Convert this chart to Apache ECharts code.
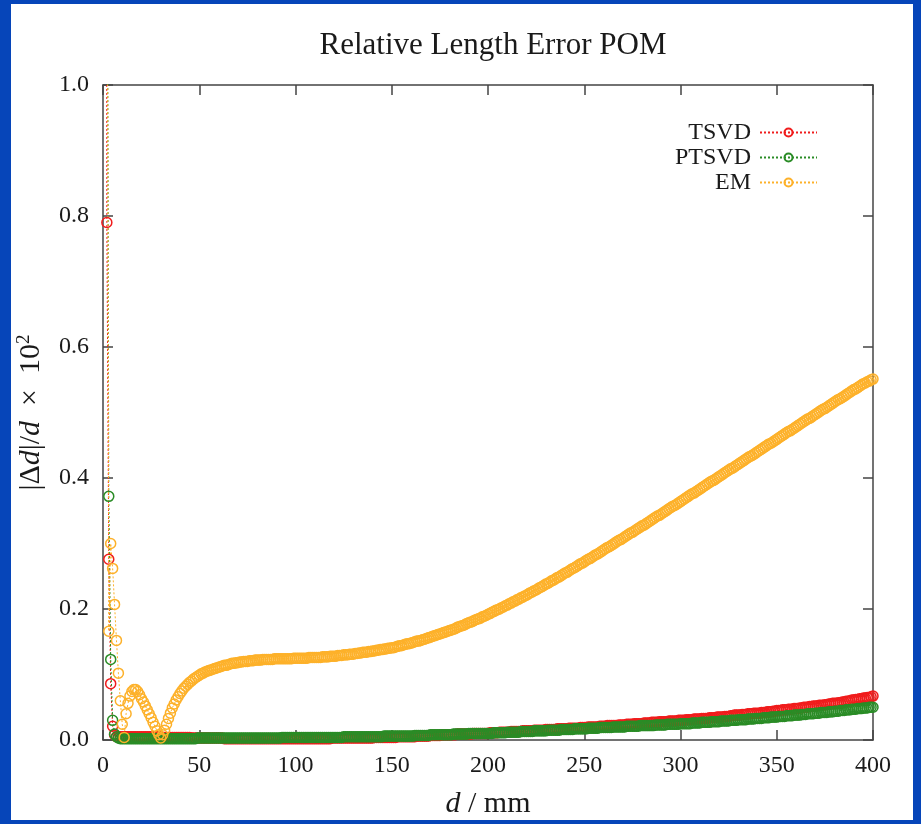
<!DOCTYPE html>
<html>
<head>
<meta charset="utf-8">
<script src="https://cdn.jsdelivr.net/npm/echarts@6/dist/echarts.min.js"></script>
<style>
html,body{margin:0;padding:0;background:#0645b9;}
#chart{width:921px;height:824px;}
</style>
</head>
<body>
<div id="chart"></div>
<script>
// sample positions d (mm)
var dValues = [
  1,2,3,4,5,6,7,8,9,10,11,12,13,14,15,16,17,18,19,20,
  21,22,23,24,25,26,27,28,29,30,31,32,33,34,35,36,37,38,39,40,
  41,42,43,44,45,46,47,48,49,50,51,52,53,54,55,56,57,58,59,60,
  61,62,63,64,65,66,67,68,69,70,71,72,73,74,75,76,77,78,79,80,
  81,82,83,84,85,86,87,88,89,90,91,92,93,94,95,96,97,98,99,100,
  101,102,103,104,105,106,107,108,109,110,111,112,113,114,115,116,117,118,119,120,
  121,122,123,124,125,126,127,128,129,130,131,132,133,134,135,136,137,138,139,140,
  141,142,143,144,145,146,147,148,149,150,151,152,153,154,155,156,157,158,159,160,
  161,162,163,164,165,166,167,168,169,170,171,172,173,174,175,176,177,178,179,180,
  181,182,183,184,185,186,187,188,189,190,191,192,193,194,195,196,197,198,199,200,
  201,202,203,204,205,206,207,208,209,210,211,212,213,214,215,216,217,218,219,220,
  221,222,223,224,225,226,227,228,229,230,231,232,233,234,235,236,237,238,239,240,
  241,242,243,244,245,246,247,248,249,250,251,252,253,254,255,256,257,258,259,260,
  261,262,263,264,265,266,267,268,269,270,271,272,273,274,275,276,277,278,279,280,
  281,282,283,284,285,286,287,288,289,290,291,292,293,294,295,296,297,298,299,300,
  301,302,303,304,305,306,307,308,309,310,311,312,313,314,315,316,317,318,319,320,
  321,322,323,324,325,326,327,328,329,330,331,332,333,334,335,336,337,338,339,340,
  341,342,343,344,345,346,347,348,349,350,351,352,353,354,355,356,357,358,359,360,
  361,362,363,364,365,366,367,368,369,370,371,372,373,374,375,376,377,378,379,380,
  381,382,383,384,385,386,387,388,389,390,391,392,393,394,395,396,397,398,399,400
];

var tsvdValues = [
  5.0,0.79,0.276,0.086,0.021,0.008,0.005,0.005,0.005,0.005,
  .005,.005,.005,.005,.005,.005,.005,.005,.005,.005,
  .005,.005,.005,.005,.005,.005,.005,.005,.005,.005,
  .004,.004,.004,.004,.004,.004,.004,.004,.004,.004,
  .004,.004,.004,.004,.004,.003,.003,.003,.003,.003,
  .003,.003,.003,.003,.003,.003,.003,.003,.003,.003,
  .003,.003,.002,.002,.002,.002,.002,.002,.002,.002,
  .002,.002,.002,.002,.002,.002,.002,.002,.002,.002,
  .002,.002,.002,.002,.002,.002,.002,.002,.002,.002,
  .002,.002,.002,.002,.002,.002,.002,.002,.002,.002,
  .002,.002,.002,.002,.002,.002,.002,.002,.002,.002,
  .002,.002,.002,.002,.002,.002,.002,.002,.003,.003,
  .003,.003,.003,.003,.003,.003,.003,.003,.003,.003,
  .003,.003,.003,.003,.003,.003,.003,.003,.003,.003,
  .004,.004,.004,.004,.004,.004,.004,.004,.004,.004,
  .004,.004,.005,.005,.005,.005,.005,.005,.005,.005,
  .005,.005,.006,.006,.006,.006,.006,.006,.006,.007,
  .007,.007,.007,.007,.007,.008,.008,.008,.008,.008,
  .008,.008,.008,.009,.009,.009,.009,.009,.009,.009,
  .009,.010,.010,.010,.010,.010,.010,.010,.010,.010,
  .011,.011,.011,.011,.011,.012,.012,.012,.012,.012,
  .012,.013,.013,.013,.013,.013,.013,.014,.014,.014,
  .014,.014,.014,.015,.015,.015,.015,.015,.015,.016,
  .016,.016,.016,.016,.016,.017,.017,.017,.017,.017,
  .017,.018,.018,.018,.018,.018,.018,.019,.019,.019,
  .019,.020,.020,.020,.020,.020,.020,.021,.021,.021,
  .021,.022,.022,.022,.022,.022,.022,.023,.023,.023,
  .023,.024,.024,.024,.024,.025,.025,.025,.025,.025,
  .026,.026,.026,.026,.027,.027,.027,.027,.028,.028,
  .028,.028,.028,.029,.029,.029,.029,.029,.030,.030,
  .030,.030,.031,.031,.031,.031,.032,.032,.032,.032,
  .033,.033,.033,.033,.034,.034,.034,.034,.035,.035,
  .035,.035,.036,.036,.036,.037,.037,.038,.038,.038,
  .038,.039,.039,.039,.040,.040,.040,.041,.041,.041,
  .041,.042,.042,.042,.043,.043,.043,.044,.044,.045,
  .045,.045,.046,.046,.046,.047,.047,.047,.048,.048,
  .048,.049,.049,.050,.050,.050,.051,.051,.052,.052,
  .052,.053,.053,.053,.054,.054,.055,.055,.056,.056,
  .056,.057,.057,.058,.058,.059,.059,.060,.061,.061,
  .062,.062,.063,.063,.064,.064,.065,.065,.066,.067
];

var ptsvdValues = [
  4.0,1.6,0.372,0.123,0.030,0.009,0.005,0.003,0.002,0.002,
  .002,.002,.002,.002,.002,.002,.002,.002,.002,.002,
  .002,.002,.002,.002,.002,.002,.002,.002,.002,.002,
  .002,.002,.002,.002,.002,.002,.002,.002,.002,.002,
  .002,.002,.002,.002,.002,.002,.002,.002,.003,.003,
  .003,.003,.003,.003,.003,.003,.003,.003,.003,.003,
  .003,.003,.003,.003,.003,.003,.003,.003,.003,.003,
  .003,.003,.003,.003,.003,.003,.003,.003,.003,.003,
  .003,.003,.003,.003,.003,.003,.003,.003,.003,.003,
  .003,.003,.004,.004,.004,.004,.004,.004,.004,.004,
  .004,.004,.004,.004,.004,.004,.004,.004,.004,.004,
  .004,.004,.004,.004,.004,.004,.004,.004,.004,.004,
  .004,.004,.004,.004,.005,.005,.005,.005,.005,.005,
  .005,.005,.005,.005,.005,.005,.005,.005,.005,.005,
  .005,.005,.005,.005,.005,.006,.006,.006,.006,.006,
  .006,.006,.006,.006,.006,.006,.006,.006,.006,.006,
  .006,.007,.007,.007,.007,.007,.007,.007,.007,.008,
  .008,.008,.008,.008,.008,.008,.008,.008,.008,.008,
  .008,.009,.009,.009,.009,.009,.009,.009,.009,.010,
  .010,.010,.010,.010,.010,.010,.010,.010,.010,.010,
  .010,.010,.011,.011,.011,.011,.011,.011,.011,.012,
  .012,.012,.012,.012,.012,.012,.013,.013,.013,.013,
  .013,.013,.013,.014,.014,.014,.014,.014,.014,.014,
  .015,.015,.015,.015,.015,.015,.015,.016,.016,.016,
  .016,.016,.016,.016,.017,.017,.017,.017,.017,.017,
  .017,.018,.018,.018,.018,.018,.018,.019,.019,.019,
  .019,.019,.019,.019,.020,.020,.020,.020,.020,.020,
  .020,.021,.021,.021,.021,.021,.021,.021,.022,.022,
  .022,.022,.022,.022,.022,.022,.023,.023,.023,.023,
  .023,.023,.024,.024,.024,.024,.024,.024,.024,.025,
  .025,.025,.025,.025,.025,.026,.026,.026,.026,.026,
  .027,.027,.027,.027,.027,.028,.028,.028,.028,.028,
  .029,.029,.029,.029,.029,.030,.030,.030,.030,.031,
  .031,.031,.031,.031,.032,.032,.032,.032,.033,.033,
  .033,.033,.034,.034,.034,.034,.035,.035,.035,.035,
  .036,.036,.036,.036,.037,.037,.037,.037,.038,.038,
  .038,.038,.039,.039,.039,.040,.040,.040,.040,.041,
  .041,.041,.042,.042,.042,.042,.043,.043,.043,.044,
  .044,.044,.045,.045,.045,.046,.046,.046,.047,.047,
  .047,.048,.048,.048,.049,.049,.049,.050,.050,.050
];

var emValues = [
  4.0,1.6,0.166,0.300,0.262,0.207,0.152,0.102,0.060,0.024,
  0.004,0.040,0.056,0.067,0.074,0.077,0.077,0.074,0.069,0.063,
  .058,.052,.046,.040,.034,.027,.021,.014,.008,.003,
  .008,.015,.024,.033,.041,.049,.055,.061,.066,.071,
  .075,.079,.082,.085,.088,.090,.093,.095,.097,.099,
  .101,.102,.104,.105,.106,.107,.108,.109,.110,.111,
  .112,.113,.114,.114,.115,.116,.117,.117,.118,.118,
  .119,.119,.120,.120,.120,.121,.121,.121,.122,.122,
  .122,.122,.123,.123,.123,.123,.123,.123,.124,.124,
  .124,.124,.124,.124,.124,.124,.124,.124,.125,.125,
  .125,.125,.125,.125,.125,.125,.126,.126,.126,.126,
  .126,.126,.126,.127,.127,.127,.127,.128,.128,.128,
  .128,.129,.129,.129,.130,.130,.130,.131,.131,.131,
  .132,.132,.133,.133,.134,.134,.134,.135,.135,.136,
  .136,.137,.137,.138,.138,.139,.139,.140,.140,.141,
  .141,.142,.143,.144,.144,.145,.146,.147,.147,.148,
  .149,.150,.151,.151,.152,.153,.154,.155,.156,.157,
  .158,.159,.160,.161,.162,.163,.164,.165,.166,.167,
  .168,.169,.170,.172,.173,.174,.175,.176,.178,.179,
  .180,.181,.183,.184,.185,.186,.188,.189,.190,.192,
  .193,.195,.196,.198,.199,.200,.202,.203,.205,.206,
  .208,.209,.211,.212,.214,.215,.217,.218,.220,.221,
  .223,.225,.226,.228,.229,.231,.233,.234,.236,.238,
  .239,.241,.243,.244,.246,.248,.249,.251,.253,.255,
  .256,.258,.260,.262,.263,.265,.267,.269,.270,.272,
  .274,.276,.277,.279,.281,.283,.284,.286,.288,.290,
  .292,.294,.295,.297,.299,.301,.303,.305,.306,.308,
  .310,.312,.314,.316,.317,.319,.321,.323,.325,.327,
  .328,.330,.332,.334,.336,.338,.340,.342,.343,.345,
  .347,.349,.351,.353,.355,.357,.358,.360,.362,.364,
  .366,.368,.370,.372,.374,.376,.377,.379,.381,.383,
  .385,.387,.389,.391,.393,.395,.396,.398,.400,.402,
  .404,.406,.408,.410,.412,.414,.415,.417,.419,.421,
  .423,.425,.427,.429,.431,.433,.434,.436,.438,.440,
  .442,.444,.446,.448,.450,.452,.453,.455,.457,.459,
  .461,.463,.465,.467,.469,.471,.472,.474,.476,.478,
  .480,.482,.484,.486,.488,.490,.491,.493,.495,.497,
  .499,.501,.503,.505,.506,.508,.510,.512,.514,.516,
  .518,.520,.521,.523,.525,.527,.529,.531,.533,.535,
  .536,.538,.540,.542,.544,.545,.547,.548,.550,.551
];

var seriesNames = ['TSVD', 'PTSVD', 'EM'];
var xTicks = [0, 50, 100, 150, 200, 250, 300, 350, 400];
var yTicks = [0.0, 0.2, 0.4, 0.6, 0.8, 1.0];

var colors = ['#f01c1c', '#2a8c26', '#fdb12a'];
var FONT = '"Liberation Serif", "DejaVu Serif", serif';

function pairs(xs, ys) {
  var out = [];
  for (var i = 0; i < xs.length; i++) out.push([xs[i], ys[i]]);
  return out;
}

function makeSeries(name, vals, color) {
  return {
    name: name,
    type: 'line',
    data: pairs(dValues, vals),
    xAxisIndex: 0, yAxisIndex: 0,
    symbol: 'circle',
    symbolSize: 10,
    showAllSymbol: true,
    clip: true,
    lineStyle: { color: color, width: 1, type: [2, 2] },
    itemStyle: { color: 'rgba(255,255,255,0)', borderColor: color, borderWidth: 1.5 },
    emphasis: { disabled: true },
    animation: false
  };
}

var axisLineStyle = { color: '#444', width: 1.5 };
var tickStyle = { show: true, inside: true, length: 10, lineStyle: { color: '#444', width: 1.5 } };

var chart = echarts.init(document.getElementById('chart'), null, { renderer: 'canvas' });
chart.setOption({
  backgroundColor: '#0645b9',
  animation: false,
  graphic: [{
    type: 'rect', z: -100,
    shape: { x: 11, y: 4, width: 902, height: 816 },
    style: { fill: '#ffffff' }
  }],
  title: {
    text: 'Relative Length Error POM',
    left: 488, top: 25, textAlign: 'center',
    textStyle: { fontFamily: FONT, fontSize: 31, fontWeight: 'normal', color: '#1a1a1a' }
  },
  legend: {
    orient: 'vertical',
    right: 98, top: 115,
    align: 'right',
    itemWidth: 57, itemHeight: 10, itemGap: 0,
    data: seriesNames,
    textStyle: { fontFamily: FONT, fontSize: 24, color: '#1a1a1a', lineHeight: 25, padding: [0, 4, 0, 0] }
  },
  grid: { left: 103, right: 48, top: 85, bottom: 83, containLabel: false },
  xAxis: [{
    type: 'value', min: 0, max: 400, interval: 50,
    position: 'bottom',
    name: '{i|d} / mm',
    nameLocation: 'middle', nameGap: 49,
    nameTextStyle: {
      fontFamily: FONT, fontSize: 30, color: '#1a1a1a',
      rich: { i: { fontFamily: FONT, fontSize: 30, fontStyle: 'italic', color: '#1a1a1a' } }
    },
    axisLine: { show: true, lineStyle: axisLineStyle },
    axisTick: tickStyle,
    splitLine: { show: false },
    axisLabel: {
      fontFamily: FONT, fontSize: 24, color: '#1a1a1a', margin: 14,
      formatter: function (v) { return xTicks.indexOf(v) >= 0 ? String(v) : ''; }
    }
  }, {
    type: 'value', min: 0, max: 400, interval: 50,
    position: 'top',
    axisLine: { show: true, onZero: false, lineStyle: axisLineStyle },
    axisTick: tickStyle,
    splitLine: { show: false },
    axisLabel: { show: false }
  }],
  yAxis: [{
    type: 'value', min: 0, max: 1, interval: 0.2,
    position: 'left',
    name: '|Δ{i|d}|/{i|d}  ×  10{sup|2}',
    nameLocation: 'middle', nameRotate: 90, nameGap: 53,
    nameTextStyle: {
      fontFamily: FONT, fontSize: 30, color: '#1a1a1a', lineHeight: 34, verticalAlign: 'bottom',
      rich: {
        i: { fontFamily: FONT, fontSize: 30, fontStyle: 'italic', color: '#1a1a1a', lineHeight: 34 },
        sup: { fontFamily: FONT, fontSize: 19, color: '#1a1a1a', lineHeight: 16, verticalAlign: 'top' }
      }
    },
    axisLine: { show: true, onZero: false, lineStyle: axisLineStyle },
    axisTick: tickStyle,
    splitLine: { show: false },
    axisLabel: {
      fontFamily: FONT, fontSize: 24, color: '#1a1a1a', margin: 14,
      formatter: function (v) { return v.toFixed(1); }
    }
  }, {
    type: 'value', min: 0, max: 1, interval: 0.2,
    position: 'right',
    axisLine: { show: true, onZero: false, lineStyle: axisLineStyle },
    axisTick: tickStyle,
    splitLine: { show: false },
    axisLabel: { show: false }
  }],
  series: [
    makeSeries(seriesNames[0], tsvdValues, colors[0]),
    makeSeries(seriesNames[1], ptsvdValues, colors[1]),
    makeSeries(seriesNames[2], emValues, colors[2])
  ]
});
</script>
</body>
</html>
